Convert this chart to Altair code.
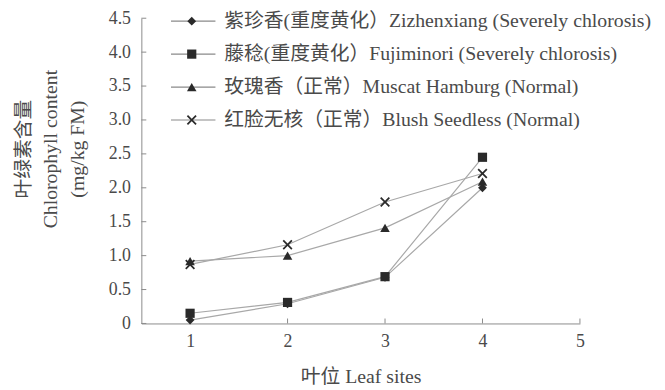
import altair as alt
import pandas as pd

sites = [1, 2, 3, 4]
varieties = [
    "紫珍香(重度黄化）Zizhenxiang (Severely chlorosis)",
    "藤稔(重度黄化）Fujiminori (Severely chlorosis)",
    "玫瑰香（正常）Muscat Hamburg (Normal)",
    "红脸无核（正常）Blush Seedless (Normal)",
]
zizhenxiang = [0.05, 0.29, 0.68, 2.00]
fujiminori = [0.15, 0.31, 0.69, 2.45]
muscat = [0.92, 1.00, 1.41, 2.09]
blush = [0.87, 1.16, 1.79, 2.21]
y_ticks = [0, 0.5, 1.0, 1.5, 2.0, 2.5, 3.0, 3.5, 4.0, 4.5]
x_ticks = [1, 2, 3, 4, 5]

series = [zizhenxiang, fujiminori, muscat, blush]
rows = []
for name, vals in zip(varieties, series):
    for s, v in zip(sites, vals):
        rows.append({"site": s, "value": v, "variety": name})
df = pd.DataFrame(rows)
legend_df = pd.DataFrame({"variety": varieties, "row": list(range(len(varieties)))})
yt_df = pd.DataFrame({"v": y_ticks})
xt_df = pd.DataFrame({"s": x_ticks})

FONT = "Liberation Serif, Noto Sans CJK SC"
TXT = "#4a4a4a"
W, H = 444, 309

xpath = "M -1 -0.75 L -0.75 -1 L 0 -0.25 L 0.75 -1 L 1 -0.75 L 0.25 0 L 1 0.75 L 0.75 1 L 0 0.25 L -0.75 1 L -1 0.75 L -0.25 0 Z"
shape_scale = alt.Scale(domain=varieties, range=["diamond", "square", "triangle-up", xpath])
size_scale = alt.Scale(domain=varieties, range=[80, 100, 110, 120])

x_scale = alt.Scale(domain=[0.5, 5], nice=False)
y_scale = alt.Scale(domain=[0, 4.5], nice=False)

x_axis = alt.Axis(values=x_ticks, format="d", title="叶位 Leaf sites", ticks=False, tickSize=0,
                  labelPadding=9, titleY=54, titleBaseline="middle", grid=False,
                  labelOverlap=False, labelFlush=False)
y_axis = alt.Axis(values=y_ticks, ticks=False, tickSize=0, labelPadding=11, grid=False,
                  labelOverlap=False, labelFlush=False,
                  labelExpr="datum.value == 0 ? '0' : format(datum.value, '.1f')",
                  title=["叶绿素含量", "Chlorophyll content", "(mg/kg FM)"],
                  titleX=-119, titleY=132, titleBaseline="middle", titleLineHeight=27,
                  titleAngle=270)

lines = alt.Chart(df).mark_line(color="#a8a8a8", strokeWidth=1.2).encode(
    x=alt.X("site:Q", scale=x_scale, axis=x_axis),
    y=alt.Y("value:Q", scale=y_scale, axis=y_axis),
    detail="variety:N",
)
points = alt.Chart(df).mark_point(filled=True, color="#2a2a2a", opacity=1).encode(
    x=alt.X("site:Q", scale=x_scale, axis=x_axis),
    y=alt.Y("value:Q", scale=y_scale, axis=y_axis),
    shape=alt.Shape("variety:N", scale=shape_scale, legend=None),
    size=alt.Size("variety:N", scale=size_scale, legend=None),
)
yticks = alt.Chart(yt_df).mark_rule(color="#8a8a8a", strokeWidth=1).encode(
    y=alt.Y("v:Q", scale=y_scale, axis=y_axis), x=alt.value(0), x2=alt.value(5)
)
xticks = alt.Chart(xt_df).mark_rule(color="#8a8a8a", strokeWidth=1).encode(
    x=alt.X("s:Q", scale=x_scale, axis=x_axis), y=alt.value(H), y2=alt.value(H - 5)
)
main = alt.layer(lines, yticks, xticks, points)

leg_y = alt.Y("row:Q", axis=None,
              scale=alt.Scale(domain=[0, 3], range=[3, 103], nice=False, zero=False))
leg_rule = alt.Chart(legend_df).mark_rule(color="#8a8a8a", strokeWidth=1.2).encode(
    y=leg_y, x=alt.value(30), x2=alt.value(75)
)
leg_pts = alt.Chart(legend_df).mark_point(filled=True, color="#2a2a2a", opacity=1).encode(
    y=leg_y, x=alt.value(51),
    shape=alt.Shape("variety:N", scale=shape_scale, legend=None),
    size=alt.Size("variety:N", scale=size_scale, legend=None),
)
leg_txt = alt.Chart(legend_df).mark_text(
    align="left", baseline="middle", font=FONT, fontSize=20, color=TXT
).encode(y=leg_y, x=alt.value(84), text="variety:N")
legend = alt.layer(leg_rule, leg_pts, leg_txt)

chart = alt.layer(main, legend).resolve_scale(y="independent").properties(
    width=W, height=H,
    padding={"left": 135, "top": 8, "right": 78, "bottom": 64},
    autosize=alt.AutoSizeParams(type="none"),
).configure_view(stroke=None).configure_axis(
    domainColor="#8a8a8a", domainWidth=1, labelFont=FONT, titleFont=FONT,
    labelFontSize=18, titleFontSize=20, labelColor=TXT, titleColor=TXT,
    titleFontWeight="normal",
)

chart.save("out.html", embed_options={"renderer": "svg", "actions": False})
